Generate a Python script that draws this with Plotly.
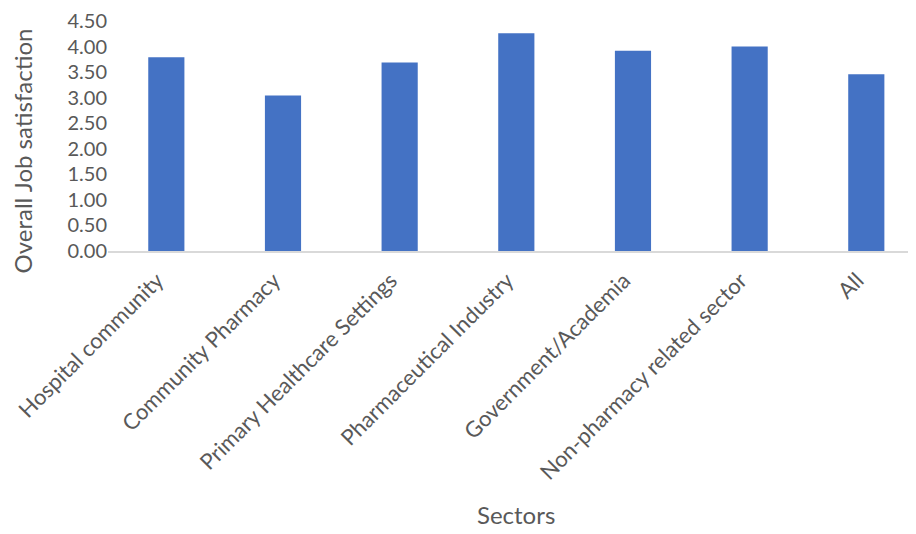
import plotly.graph_objects as go

sectors = ["Hospital community", "Community Pharmacy", "Primary Healthcare Settings",
           "Pharmaceutical Industry", "Government/Academia", "Non-pharmacy related sector", "All"]
satisfaction = [3.79, 3.04, 3.69, 4.26, 3.92, 4.00, 3.46]
y_ticks = [0, 0.5, 1.0, 1.5, 2.0, 2.5, 3.0, 3.5, 4.0, 4.5]

FONT = "Lato"
GREY = "#595959"

fig = go.Figure(go.Bar(
    x=sectors, y=satisfaction,
    marker=dict(color="#4472C4", line=dict(width=0)),
    width=0.31,
))

# page body has an 8px default margin: work in page coords minus 8
OFF = 8
W, H = 916 - OFF, 534 - OFF
L = 108 - OFF
T = 17 - OFF
PLOT_BOTTOM = 251.5 - OFF
B = H - PLOT_BOTTOM
PH = H - T - B
PW = W - L
fig.update_layout(
    width=W, height=H,
    margin=dict(l=L, r=0, t=T, b=B, pad=0),
    paper_bgcolor="white", plot_bgcolor="white",
    showlegend=False,
    font=dict(family=FONT, color=GREY, size=20),
    xaxis=dict(
        range=[-0.5, 6.426],
        tickangle=-45,
        tickfont=dict(family=FONT, size=22, color=GREY),
        showline=True, linecolor="#D9D9D9", linewidth=2,
        showgrid=False, ticks="",
        ticklabelshift=-9, ticklabelstandoff=6,
    ),
    yaxis=dict(
        range=[0, 4.5],
        tickvals=y_ticks,
        ticktext=[f"{v:.2f}" for v in y_ticks],
        tickfont=dict(family=FONT, size=20, color=GREY),
        showgrid=False, zeroline=False, showline=False, ticks="",
        ticklabeloverflow="allow",
    ),
    annotations=[
        dict(text="Overall Job satisfaction", xref="paper", yref="paper",
             x=-(L - (22 - OFF)) / PW, y=(PLOT_BOTTOM - (150 - OFF)) / PH,
             textangle=-90, showarrow=False, xanchor="center", yanchor="middle",
             font=dict(family=FONT, size=24, color=GREY)),
        dict(text="Sectors", xref="paper", yref="paper",
             x=((516 - OFF) - L) / PW, y=-((520 - OFF) - PLOT_BOTTOM) / PH,
             showarrow=False, xanchor="center", yanchor="middle",
             font=dict(family=FONT, size=24, color=GREY)),
    ],
)

fig.write_html("out.html")
